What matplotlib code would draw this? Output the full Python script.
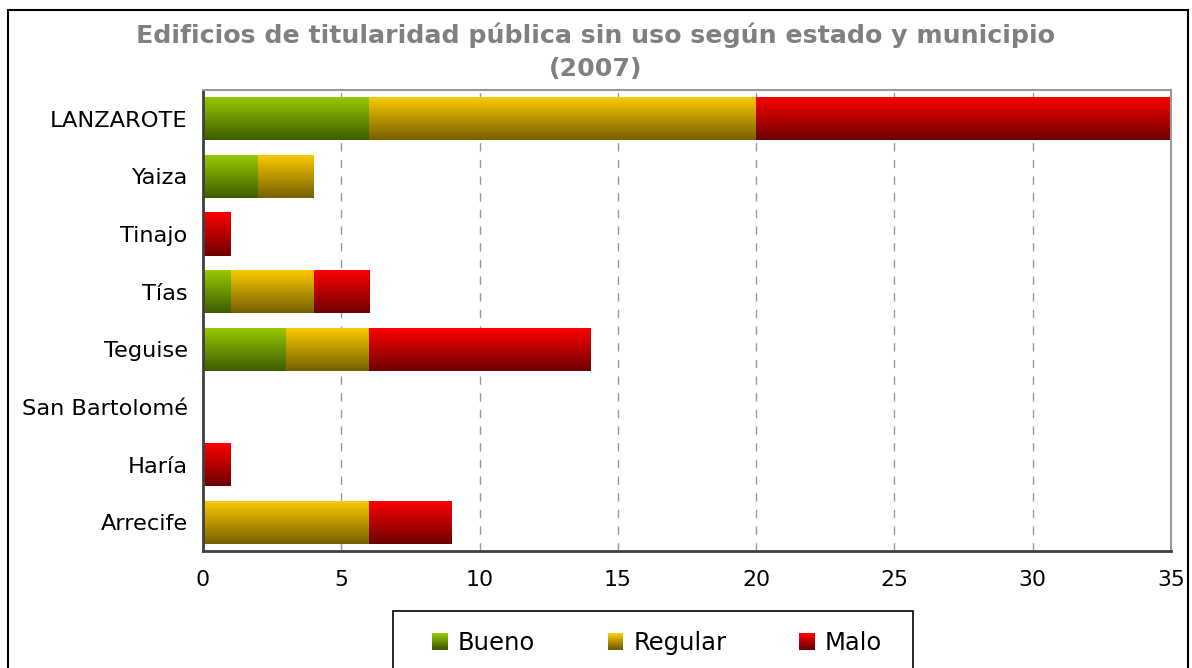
import numpy as np
import matplotlib
matplotlib.use("Agg")
import matplotlib.pyplot as plt
from matplotlib.colors import LinearSegmentedColormap
from matplotlib.patches import Rectangle
from matplotlib.legend_handler import HandlerBase

# data
municipios = ["LANZAROTE", "Yaiza", "Tinajo", "Tías", "Teguise",
              "San Bartolomé", "Haría", "Arrecife"]
bueno = [6, 2, 0, 1, 3, 0, 0, 0]
regular = [14, 2, 0, 3, 3, 0, 0, 6]
malo = [15, 0, 1, 2, 8, 0, 1, 3]
estados = ["Bueno", "Regular", "Malo"]

# gradient colours, top -> bottom of each bar
color_top = ["#99CC00", "#FFCC00", "#FF0000"]
color_bottom = ["#3D5C00", "#756000", "#6E0000"]


def make_cmap(top, bottom):
    return LinearSegmentedColormap.from_list("g", [top, bottom])


class GradientHandler(HandlerBase):
    """Legend key drawn as a small vertical gradient square."""

    def __init__(self, top, bottom):
        super().__init__()
        self.cmap = make_cmap(top, bottom)

    def create_artists(self, legend, orig_handle, xdescent, ydescent,
                       width, height, fontsize, trans):
        n = 16
        arts = []
        for i in range(n):
            r = Rectangle((-xdescent, -ydescent + height * (n - 1 - i) / n),
                          width, height / n + 0.05,
                          facecolor=self.cmap(i / (n - 1)), edgecolor="none",
                          transform=trans)
            arts.append(r)
        return arts


fig = plt.figure(figsize=(11.92, 6.68), dpi=100)
ax = fig.add_axes([203 / 1192, (668 - 551) / 668, 968 / 1192, 461 / 668])

y = np.arange(len(municipios))
left = np.zeros(len(municipios))
handles = []
for vals, top, bottom, name in zip([bueno, regular, malo], color_top, color_bottom, estados):
    bars = ax.barh(y, vals, left=left, height=0.75, color="none", edgecolor="none", label=name)
    cmap = make_cmap(top, bottom)
    grad = np.linspace(0, 1, 256).reshape(-1, 1)
    for patch, v in zip(bars.patches, vals):
        if v == 0:
            continue
        bb = patch.get_bbox()
        im = ax.imshow(grad, cmap=cmap, aspect="auto", origin="upper",
                       extent=[bb.x0, bb.x1, bb.y1, bb.y0], zorder=2,
                       interpolation="bilinear")
        im.set_clip_path(patch)
    handles.append(bars)
    left = left + np.array(vals)

ax.set_xlim(0, 35)
ax.set_ylim(len(municipios) - 0.5, -0.5)
ax.set_xticks(range(0, 36, 5))
ax.set_yticks(y)
ax.set_yticklabels(municipios)
ax.tick_params(axis="y", length=0, pad=11, labelsize=16.2)
ax.tick_params(axis="x", length=0, pad=14, labelsize=15.8)
ax.grid(axis="x", linestyle=(0, (6, 6)), color="#999999", linewidth=1, zorder=0)
ax.set_axisbelow(True)
for s in ["top", "right"]:
    ax.spines[s].set_color("#999999")
    ax.spines[s].set_linewidth(1.5)
for s in ["left", "bottom"]:
    ax.spines[s].set_color("#404040")
    ax.spines[s].set_linewidth(2)

fig.text(0.5, (668 - 35) / 668,
         "Edificios de titularidad pública sin uso según estado y municipio",
         ha="center", va="center", fontsize=18.2, fontweight="bold", color="#808080")
fig.text(0.5, (668 - 69) / 668, "(2007)",
         ha="center", va="center", fontsize=18.2, fontweight="bold", color="#808080")

# outer chart frame and legend box
fig.patches.append(Rectangle((8 / 1192, -0.1), 1180 / 1192, 1.1 - 10 / 668,
                             transform=fig.transFigure, fill=False,
                             edgecolor="black", linewidth=1.5))
fig.patches.append(Rectangle((393 / 1192, -0.1), 520 / 1192, 0.1 + (668 - 611) / 668,
                             transform=fig.transFigure, fill=False,
                             edgecolor="black", linewidth=1.2))

hmap = {h: GradientHandler(t, b) for h, t, b in zip(handles, color_top, color_bottom)}
fig.legend(handles, estados, handler_map=hmap, loc="center",
           bbox_to_anchor=(657 / 1192, (668 - 643) / 668), ncol=3, frameon=False,
           fontsize=17.5, handlelength=0.65, handleheight=0.65,
           handletextpad=0.4, columnspacing=3.0)

fig.savefig("out.png", dpi=100)
